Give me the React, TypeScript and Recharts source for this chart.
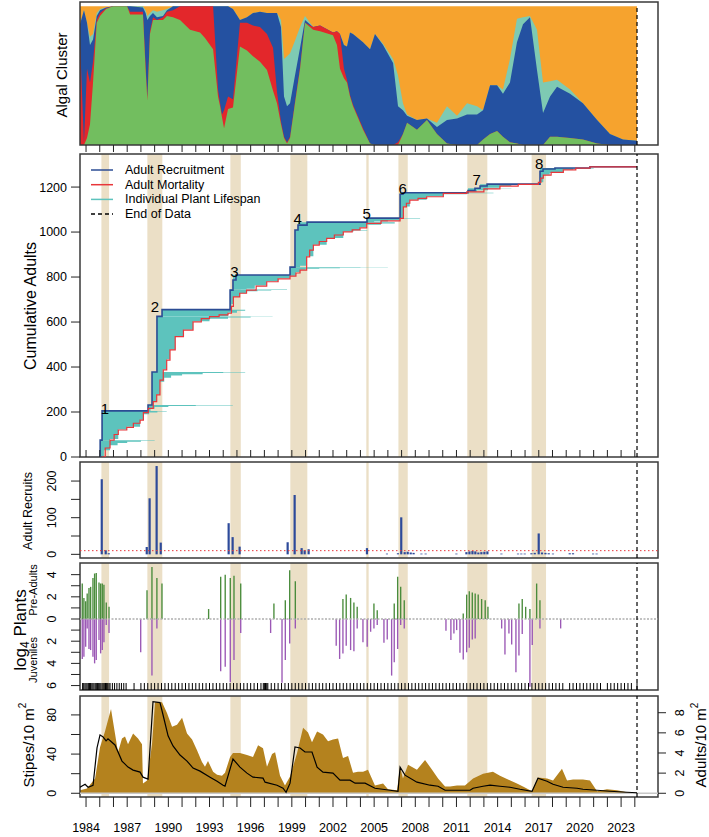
import React from "react";
import {
  ComposedChart,
  Area,
  Line,
  Bar,
  Scatter,
  XAxis,
  YAxis,
  ReferenceArea,
  ReferenceLine,
  ReferenceDot,
  Legend,
} from "recharts";

const FONT = "'Liberation Sans', Arial, Helvetica, sans-serif";
const W = 709;
const H = 837;
const X_DOMAIN: [number, number] = [1983.56, 2025.69];

// shared time axis
const yearTicks = [
  1984, 1985, 1986, 1987, 1988, 1989, 1990, 1991, 1992, 1993, 1994, 1995, 1996, 1997,
  1998, 1999, 2000, 2001, 2002, 2003, 2004, 2005, 2006, 2007, 2008, 2009, 2010, 2011,
  2012, 2013, 2014, 2015, 2016, 2017, 2018, 2019, 2020, 2021, 2022, 2023, 2024,
];
const yearLabels = [1984, 1987, 1990, 1993, 1996, 1999, 2002, 2005, 2008, 2011, 2014, 2017, 2020, 2023];
const endOfData = 2024.16;
const bandStarts = [1985.12, 1988.47, 1994.52, 1998.89, 2004.43, 2006.77, 2011.79, 2016.48];
const bandEnds = [1985.68, 1989.56, 1995.28, 2000.13, 2004.6, 2007.45, 2013.25, 2017.53];

// algal cluster (upper edge of each cluster, cumulative share)
const algalYears = [
  1983.56, 1983.85, 1984.07, 1984.29, 1984.51, 1984.78, 1985.02, 1985.46, 1985.97, 1986.99,
  1987.21, 1988.15, 1988.34, 1988.47, 1988.66, 1988.88, 1989.17, 1989.61, 1989.9, 1990.34,
  1990.85, 1991.58, 1992.31, 1992.67, 1993.26, 1993.62, 1993.77, 1993.91, 1994.06, 1994.35,
  1994.71, 1995.22, 1995.73, 1996.17, 1996.68, 1997.19, 1997.63, 1997.92, 1998.21, 1998.43,
  1998.65, 1998.87, 1999.23, 1999.6, 1999.96, 2000.55, 2001.06, 2002.0, 2002.29, 2002.51,
  2002.8, 2003.02, 2003.24, 2003.46, 2004.19, 2004.7, 2005.06, 2005.65, 2006.38, 2006.74,
  2007.1, 2007.4, 2008.12, 2008.85, 2009.58, 2010.31, 2011.04, 2011.77, 2012.5, 2012.94,
  2013.45, 2013.96, 2014.39, 2014.9, 2015.41, 2015.85, 2016.36, 2016.87, 2017.31, 2017.82,
  2018.33, 2019.28, 2020.22, 2021.25, 2022.19, 2023.14, 2024.16,
];
const greenTop = [
  0, 0, 0.05, 0.15, 0.45, 0.88, 0.93, 0.98, 1, 1,
  0.94, 0.94, 0.55, 0.32, 0.8, 0.9, 0.9, 0.9, 0.93, 0.92,
  0.9, 0.83, 0.81, 0.77, 0.69, 0.35, 0.28, 0.2, 0.12, 0.26,
  0.27, 0.71, 0.68, 0.64, 0.6, 0.54, 0.39, 0.3, 0.15, 0.05,
  0.01, 0.05, 0.3, 0.55, 0.88, 0.83, 0.82, 0.79, 0.72, 0.55,
  0.48, 0.45, 0.35, 0.28, 0.11, 0.01, 0, 0, 0, 0,
  0.08, 0.16, 0.11, 0.18, 0.08, 0.01, 0, 0, 0, 0.04,
  0.08, 0.1, 0.06, 0.02, 0.01, 0, 0, 0, 0, 0.06,
  0.06, 0.05, 0.04, 0.01, 0, 0, 0,
];
const redTop = [
  0.74, 0.02, 0.55, 0.45, 0.6, 0.9, 0.95, 0.985, 1, 1,
  0.96, 0.96, 0.58, 0.34, 0.82, 0.92, 0.9, 0.92, 0.96, 0.97,
  1, 1, 1, 1, 1, 0.4, 0.3, 0.22, 0.25, 0.35,
  0.33, 0.88, 0.88, 0.86, 0.85, 0.8, 0.7, 0.38, 0.17, 0.06,
  0.02, 0.06, 0.31, 0.56, 0.88, 0.85, 0.86, 0.81, 0.82, 0.8,
  0.55, 0.47, 0.36, 0.29, 0.12, 0.01, 0, 0, 0, 0.02,
  0.08, 0.16, 0.11, 0.18, 0.08, 0.01, 0, 0, 0, 0.04,
  0.08, 0.1, 0.06, 0.02, 0.01, 0, 0, 0, 0, 0.06,
  0.06, 0.05, 0.04, 0.01, 0, 0, 0,
];
const blueTop = [
  0.87, 0.97, 0.88, 0.72, 0.76, 0.93, 0.97, 0.99, 1, 1,
  1, 0.99, 0.95, 0.9, 0.93, 0.95, 0.92, 0.93, 0.97, 1,
  1, 1, 1, 1, 1, 1, 1, 1, 1, 1,
  0.98, 0.9, 0.92, 0.95, 0.96, 0.95, 0.95, 0.95, 0.85, 0.35,
  0.28, 0.3, 0.5, 0.7, 0.9, 0.85, 0.86, 0.81, 0.82, 0.8,
  0.72, 0.71, 0.81, 0.8, 0.74, 0.69, 0.8, 0.72, 0.59, 0.28,
  0.25, 0.21, 0.18, 0.19, 0.13, 0.18, 0.19, 0.22, 0.22, 0.25,
  0.43, 0.43, 0.37, 0.45, 0.74, 0.87, 0.92, 0.54, 0.23, 0.35,
  0.42, 0.37, 0.3, 0.18, 0.08, 0.04, 0.03,
];
const tealTop = [
  0.87, 0.97, 0.88, 0.78, 0.8, 0.95, 0.98, 0.99, 1, 1,
  1, 1, 0.97, 0.93, 0.95, 0.97, 0.96, 0.97, 0.98, 1,
  1, 1, 1, 1, 1, 1, 1, 1, 1, 1,
  0.98, 0.9, 0.92, 0.95, 0.96, 0.95, 0.95, 0.95, 0.9, 0.62,
  0.64, 0.66, 0.75, 0.85, 0.93, 0.85, 0.86, 0.81, 0.82, 0.8,
  0.72, 0.71, 0.81, 0.8, 0.74, 0.69, 0.8, 0.73, 0.62, 0.5,
  0.3, 0.22, 0.18, 0.19, 0.16, 0.28, 0.21, 0.3, 0.28, 0.25,
  0.43, 0.43, 0.4, 0.62, 0.91, 0.92, 0.93, 0.83, 0.45, 0.46,
  0.47, 0.4, 0.3, 0.18, 0.08, 0.04, 0.03,
];

// cumulative adults
const adultTicks = [0, 200, 400, 600, 800, 1000, 1200];
const recruitStepYears = [
  1985.02, 1985.03, 1985.17, 1988.52, 1988.81, 1989.17, 1989.54, 1994.5, 1994.71, 1994.93,
  1998.87, 1999.23, 1999.45, 2000.11, 2004.48, 2006.89, 2007.1, 2011.84, 2012.35, 2012.72,
  2013.23, 2017.09, 2017.31, 2018.18, 2020.73, 2024.16,
];
const recruitStepTotals = [
  0, 75, 205, 231, 378, 625, 655, 742, 787, 809,
  844, 1009, 1031, 1044, 1062, 1168, 1175, 1185, 1195, 1205,
  1213, 1270, 1280, 1285, 1290, 1290,
];
const mortalityYears = [
  1985.14, 1985.4, 1985.75, 1986.05, 1986.35, 1986.97, 1987.45, 1987.94, 1988.18, 1988.54,
  1988.9, 1989.15, 1989.39, 1989.63, 1989.88, 1990.12, 1990.5, 1991.1, 1991.8, 1992.4,
  1993.0, 1993.7, 1994.35, 1994.6, 1994.74, 1995.2, 1995.7, 1996.4, 1997.17, 1998.0,
  1998.87, 1999.3, 1999.6, 2000.08, 2000.3, 2000.57, 2001.0, 2001.54, 2002.1, 2002.75,
  2003.4, 2003.97, 2004.46, 2005.5, 2006.89, 2007.13, 2007.35, 2007.6, 2008.2, 2008.83,
  2010.04, 2011.75, 2013.0, 2014.17, 2015.5, 2016.97, 2017.15, 2017.33, 2017.9, 2018.79,
  2019.7, 2020.73, 2024.16,
];
const mortalityTotals = [
  0, 40, 75, 100, 120, 132, 150, 164, 197, 216,
  246, 276, 342, 387, 431, 476, 535, 564, 601, 615,
  624, 632, 639, 670, 712, 728, 742, 760, 779, 792,
  804, 818, 831, 890, 920, 942, 958, 972, 987, 1001,
  1010, 1019, 1039, 1050, 1061, 1112, 1128, 1142, 1150, 1157,
  1172, 1179, 1192, 1204, 1212, 1221, 1240, 1253, 1265, 1276,
  1284, 1290, 1290,
];
// lifespans of plants grouped by recruitment cohort: survivors span [lower, top]
const lifespanCohorts = [
  { top: 75, years: [1985.02, 1985.3, 1985.75, 1986.3, 1987.0, 1988.0, 1989.0, 1990.3], lower: [0, 30, 52, 62, 68, 72, 74, 75] },
  { top: 205, years: [1985.17, 1985.75, 1986.35, 1986.97, 1987.94, 1988.18, 1988.6, 1989.2, 1989.88], lower: [75, 80, 122, 134, 166, 190, 198, 202, 205] },
  { top: 231, years: [1988.52, 1988.7, 1989.0, 1990.0, 1992.0, 1994.7], lower: [205, 215, 222, 227, 229.5, 231] },
  { top: 378, years: [1988.81, 1988.9, 1989.15, 1989.39, 1989.7, 1990.2, 1991.0, 1992.5, 1994.0, 1995.6], lower: [231, 248, 278, 335, 352, 362, 368, 373, 376, 378] },
  { top: 625, years: [1989.17, 1989.6, 1989.88, 1990.12, 1990.5, 1991.1, 1991.8, 1993.0, 1994.35, 1996.0, 1997.6], lower: [378, 390, 435, 478, 537, 566, 603, 615, 620, 623, 625] },
  { top: 655, years: [1989.54, 1993.0, 1994.35, 1995.0, 1995.6], lower: [625, 626, 641, 650, 655] },
  { top: 745, years: [1994.5, 1994.6, 1994.74, 1995.2, 1995.7, 1996.5, 1997.5, 1998.65], lower: [655, 680, 712, 728, 737, 740, 742, 745] },
  { top: 809, years: [1994.71, 1995.7, 1996.3, 1997.17, 1998.0, 1998.87, 1999.3], lower: [745, 748, 762, 781, 795, 806, 809] },
  { top: 844, years: [1998.87, 1999.3, 1999.6, 2000.0, 2001.0, 2002.5, 2004.0, 2006.0], lower: [809, 822, 832, 837, 839, 841, 842.5, 844] },
  { top: 1009, years: [1999.23, 1999.6, 2000.08, 2000.57, 2001.54, 2002.75, 2003.5, 2004.5], lower: [844, 850, 892, 944, 974, 1003, 1007, 1009] },
  { top: 1044, years: [1999.45, 2002.75, 2003.97, 2004.46, 2005.5, 2006.5], lower: [1009, 1009, 1021, 1032, 1038, 1044] },
  { top: 1062, years: [2004.48, 2005.0, 2006.0, 2006.89, 2008.35], lower: [1044, 1047, 1052, 1060, 1062] },
  { top: 1175, years: [2006.89, 2007.13, 2007.6, 2008.83, 2010.04, 2011.75, 2013.7], lower: [1062, 1114, 1144, 1159, 1168, 1172, 1175] },
  { top: 1195, years: [2011.84, 2012.5, 2013.3, 2014.0, 2015.0], lower: [1179, 1186, 1192, 1194, 1195] },
  { top: 1213, years: [2012.72, 2013.3, 2014.17, 2015.0, 2015.9], lower: [1195, 1197, 1205, 1209, 1213] },
  { top: 1285, years: [2017.09, 2017.33, 2017.8, 2018.79, 2019.5, 2021.0], lower: [1221, 1255, 1262, 1277, 1282, 1285] },
];
const cohortLabelText = ["1", "2", "3", "4", "5", "6", "7", "8"];
const cohortLabelYears = [1985.38, 1989.03, 1994.81, 1999.43, 2004.46, 2007.08, 2012.48, 2017.02];
const cohortLabelLevels = [216, 668, 824, 1061, 1083, 1194, 1234, 1305];

// adult recruits per survey
const recruitTicks = [0, 50, 100, 150, 200];
const recruitTickLabels = [0, 100, 200];
const recruitYears = [
  1985.17, 1985.46, 1985.68, 1988.45, 1988.66, 1989.17, 1989.47, 1994.42, 1994.71, 1995.22,
  1998.72, 1999.23, 1999.74, 1999.96, 2000.25, 2004.5, 2005.96, 2006.76, 2007.0, 2007.25,
  2007.47, 2007.69, 2007.9, 2008.47, 2008.78, 2011.02, 2011.75, 2011.97, 2012.19, 2012.4,
  2012.62, 2012.84, 2013.06, 2013.28, 2014.3, 2015.51, 2015.75, 2016.0, 2016.49, 2016.73,
  2017.02, 2017.26, 2017.51, 2017.75, 2018.06, 2019.28, 2019.52, 2020.98, 2021.24,
];
const recruitCounts = [
  205, 11, 3, 20, 153, 241, 32, 85, 47, 21,
  33, 162, 17, 11, 14, 17, 2, 3, 101, 6,
  7, 5, 4, 2, 2, 2, 6, 8, 9, 8,
  5, 6, 7, 8, 2, 2, 2, 2, 3, 4,
  57, 5, 4, 3, 2, 3, 3, 2, 2,
];
const recruitThreshold = 10;

// log4 plants: pre-adults up, juveniles down
const plantTicks = [-6, -5, -4, -3, -2, -1, 0, 1, 2, 3, 4];
const plantTickLabels = [-6, -4, -2, 0, 2, 4];
const plantYears = [
  1983.73, 1983.85, 1983.98, 1984.09, 1984.22, 1984.34, 1984.51, 1984.63, 1984.75, 1984.95,
  1985.07, 1985.19, 1985.31, 1985.48, 1985.68, 1987.99, 1988.45, 1988.81, 1989.17, 1989.54,
  1992.94, 1993.82, 1994.15, 1994.52, 1994.79, 1995.28, 1997.46, 1997.7, 1998.29, 1998.53,
  1998.85, 1999.26, 2002.24, 2002.49, 2002.73, 2002.97, 2003.29, 2003.53, 2003.77, 2004.19,
  2004.5, 2004.75, 2004.99, 2005.23, 2005.72, 2005.96, 2006.28, 2006.47, 2006.72, 2006.94,
  2007.2, 2010.24, 2010.6, 2010.82, 2011.02, 2011.26, 2011.5, 2011.75, 2011.94, 2012.16,
  2012.37, 2012.59, 2012.84, 2013.1, 2013.3, 2014.3, 2014.54, 2014.83, 2015.03, 2015.34,
  2015.56, 2015.8, 2016.05, 2016.36, 2016.53, 2016.85, 2017.09, 2018.6,
];
const preAdults = [
  3.2, 1.9, 1.6, 2.3, 2.8, 2.9, 3.7, 4.1, 4.15, 3.3,
  3.2, 3.2, 3.1, 1.5, 1.1, 0, 2.6, 4.7, 3.7, 3.2,
  0.9, 3.8, 4.0, 3.7, 3.9, 3.2, 0, 1.4, 0, 1.7,
  4.4, 3.4, 0, 0, 1.8, 2.2, 1.9, 1.5, 1.1, 0,
  0, 0, 1.4, 0.8, 0, 0, 0, 1.4, 3.8, 2.9,
  1.7, 0, 0, 0, 0, 0, 0.5, 2.2, 2.5, 2.4,
  2.3, 2.2, 1.8, 1.7, 1.1, 0, 0, 0, 0, 0,
  1.4, 1.8, 1.1, 0.9, 0, 3.2, 1.7, 0,
];
const juveniles = [
  3.6, 3.4, 2.5, 0.85, 2.7, 2.8, 3.4, 4.0, 3.7, 1.9,
  3.1, 2.8, 2.1, 0.55, 1.25, 3.0, 0, 5.1, 0.85, 0,
  0, 4.7, 4.3, 5.7, 3.7, 1.25, 1.25, 0, 5.75, 3.7,
  2.2, 0.85, 2.4, 3.6, 3.1, 2.4, 2.8, 2.9, 0.85, 2.1,
  2.5, 1.15, 0.85, 0.55, 2.15, 1.85, 5.1, 3.9, 2.7, 0.55,
  0.85, 1.05, 1.9, 1.3, 1.0, 3.05, 3.65, 3.0, 2.6, 1.85,
  1.75, 0, 0, 0, 0, 0.85, 3.2, 1.3, 2.3, 4.8,
  3.3, 1.35, 0, 6.1, 2.35, 0, 0.85, 0.85,
];
const surveyDates = [
  1983.75, 1983.83, 1983.92, 1984.0, 1984.08, 1984.17, 1984.25, 1984.33, 1984.42, 1984.5,
  1984.58, 1984.67, 1984.75, 1984.83, 1984.92, 1985.0, 1985.08, 1985.17, 1985.25, 1985.33,
  1985.42, 1985.5, 1985.58, 1985.67, 1985.75, 1985.92, 1986.08, 1986.25, 1986.42, 1986.58,
  1986.75, 1986.92, 1987.5,
  1988.0, 1988.25, 1988.5, 1988.75, 1989.0, 1989.25, 1989.5, 1989.75,
  1990.0, 1990.25, 1990.5, 1990.75, 1991.0, 1991.25, 1991.5, 1991.75,
  1992.0, 1992.25, 1992.5, 1992.75, 1993.0, 1993.25, 1993.5, 1993.75,
  1994.0, 1994.25, 1994.5, 1994.75, 1995.0, 1995.25, 1995.5, 1995.75,
  1996.0, 1996.25, 1996.5, 1996.75, 1996.92, 1997.0, 1997.08, 1997.17, 1997.25, 1997.5, 1997.75,
  1998.0, 1998.25, 1998.5, 1998.75, 1999.0, 1999.25, 1999.5, 1999.75,
  2000.0, 2000.25, 2000.5, 2000.75, 2001.0, 2001.25, 2001.5, 2001.75,
  2002.0, 2002.25, 2002.5, 2002.75, 2003.0, 2003.25, 2003.5, 2003.75,
  2004.0, 2004.25, 2004.5, 2004.75, 2005.0, 2005.25, 2005.5, 2005.75,
  2006.0, 2006.25, 2006.5, 2006.75, 2007.0, 2007.25, 2007.5, 2007.75,
  2008.0, 2008.25, 2008.5, 2008.75, 2009.0, 2009.25, 2009.5, 2009.75,
  2010.0, 2010.25, 2010.5, 2010.75, 2011.0, 2011.25, 2011.5, 2011.75,
  2012.0, 2012.25, 2012.5, 2012.75, 2013.0, 2013.25, 2013.5, 2013.75,
  2014.0, 2014.25, 2014.5, 2014.75, 2015.0, 2015.25, 2015.5, 2015.75,
  2016.0, 2016.25, 2016.5, 2016.75, 2017.0, 2017.25, 2017.5, 2017.75,
  2018.0, 2018.25, 2018.5, 2018.75, 2019.25, 2019.5, 2019.75, 2020.0,
  2020.25, 2020.5, 2020.75, 2021.0, 2021.25, 2021.5, 2022.0, 2022.25,
  2022.5, 2022.75, 2023.0, 2023.25, 2023.5, 2023.75, 2024.16,
];

// kelp density
const stipeTicks = [0, 20, 40, 60, 80];
const stipeTickLabels = [0, 40, 80];
const adultDensityTicks = [0, 2, 4, 6, 8];
const stipeYears = [
  1983.56, 1984.07, 1984.66, 1985.02, 1985.38, 1985.82, 1986.11, 1986.33, 1986.62, 1986.84,
  1987.06, 1987.43, 1987.79, 1988.08, 1988.15, 1988.45, 1988.81, 1989.03, 1989.54, 1989.9,
  1990.27, 1990.63, 1991.0, 1991.36, 1991.73, 1992.09, 1992.45, 1992.67, 1992.89, 1993.26,
  1993.55, 1993.91, 1994.13, 1994.5, 1994.71, 1995.22, 1995.73, 1996.17, 1996.54, 1996.9,
  1997.19, 1997.56, 1997.78, 1998.14, 1998.5, 1998.87, 1999.38, 1999.82, 2000.18, 2000.47,
  2000.84, 2001.27, 2001.64, 2002.0, 2002.37, 2002.73, 2003.1, 2003.46, 2003.82, 2004.19,
  2004.55, 2005.06, 2005.65, 2006.01, 2006.67, 2006.89, 2007.1, 2007.47, 2008.12, 2008.71,
  2009.22, 2009.66, 2010.17, 2010.53, 2011.04, 2011.62, 2012.21, 2012.94, 2013.66, 2014.17,
  2014.76, 2015.41, 2015.85, 2016.51, 2016.94, 2017.6, 2018.04, 2018.69, 2019.06, 2019.5,
  2020.22, 2020.73, 2021.25, 2021.97, 2022.7, 2023.43, 2024.16,
];
const stipeDensity = [
  3, 5, 15, 47, 63, 86, 61, 42, 56, 58,
  50, 61, 56, 50, 10, 13, 50, 93, 93, 82,
  68, 70, 77, 61, 55, 44, 32, 27, 33, 22,
  19, 18, 21, 37, 41, 41, 39, 37, 49, 46,
  27, 40, 42, 18, 8, 17, 41, 67, 62, 52,
  63, 60, 53, 55, 56, 36, 38, 21, 22, 22,
  24, 8, 10, 4, 3, 27, 15, 29, 24, 34,
  24, 15, 7, 7, 8, 8, 15, 20, 22, 18,
  14, 10, 7, 2, 16, 15, 13, 25, 13, 14,
  14, 13, 2, 4, 3, 1, 0.5,
];
const adultYears = [
  1983.56, 1983.93, 1984.15, 1984.51, 1984.8, 1985.02, 1985.24, 1985.46, 1985.6, 1986.11,
  1986.62, 1987.06, 1987.43, 1987.94, 1988.15, 1988.52, 1988.88, 1989.39, 1989.61, 1989.98,
  1990.34, 1990.85, 1991.36, 1991.8, 1992.31, 1993.04, 1993.55, 1993.99, 1994.13, 1994.71,
  1995.22, 1995.73, 1996.17, 1996.9, 1997.05, 1997.92, 1998.36, 1998.58, 1998.87, 1999.23,
  1999.6, 1999.96, 2000.47, 2000.84, 2001.27, 2002.0, 2002.51, 2003.24, 2003.61, 2004.34,
  2005.06, 2006.16, 2006.74, 2006.89, 2007.25, 2008.12, 2009.07, 2009.66, 2010.17, 2011.26,
  2011.99, 2012.21, 2012.94, 2013.45, 2014.17, 2014.9, 2015.63, 2016.51, 2016.94, 2017.6,
  2018.04, 2018.77, 2019.79, 2020.22, 2021.25, 2022.19, 2023.43, 2024.16,
];
const adultDensity = [
  0.6, 0.9, 0.6, 0.8, 4.5, 5.8, 5.6, 5.2, 5.4, 4.8,
  3.2, 2.6, 2.3, 2.1, 1.6, 1.4, 9.1, 9.0, 7.8, 5.7,
  4.7, 3.8, 3.2, 2.5, 2.2, 1.6, 1.2, 0.8, 0.7, 3.4,
  2.6, 2.0, 1.6, 1.5, 1.1, 0.8, 0.5, 0.1, 1.0, 4.6,
  4.5, 4.1, 4.1, 2.6, 2.1, 2.0, 1.3, 1.3, 1.0, 1.0,
  0.5, 0.3, 0.2, 2.6, 1.8, 1.1, 0.8, 0.7, 0.3, 0.3,
  0.3, 0.5, 0.7, 0.8, 0.7, 0.6, 0.4, 0.2, 1.5, 1.2,
  0.9, 0.6, 0.5, 0.4, 0.3, 0.2, 0.1, 0.05,
];

// colours
const ORANGE = "#F6A32E";
const TEAL_ALGAE = "#7ECAB3";
const BLUE_ALGAE = "#2451A1";
const RED_ALGAE = "#E3272B";
const GREEN_ALGAE = "#72BE5F";
const LIFESPAN = "#5DC3BD";
const RECRUIT_LINE = "#2B4C94";
const MORT_LINE = "#E8363A";
const BAR_BLUE = "#2D4A9A";
const PRE_GREEN = "#4A8C3C";
const JUV_PURPLE = "#9B58B5";
const GOLD = "#B4821E";
const BAND = "#EBDFC6";
const INK = "#222";
const FRAME = "#3a3a3a";

// tables
const algalRows = algalYears.map((year, i) => ({
  year,
  green: greenTop[i],
  red: redTop[i],
  blue: blueTop[i],
  teal: tealTop[i],
}));
const recruitStepRows = recruitStepYears.map((year, i) => ({ year, total: recruitStepTotals[i] }));
const mortalityRows = mortalityYears.map((year, i) => ({ year, total: mortalityTotals[i] }));
const recruitBarRows = recruitYears.map((year, i) => ({ year, recruits: recruitCounts[i] }));
const plantRows = plantYears.map((year, i) => ({ year, pre: preAdults[i], juv: -juveniles[i] }));
const rugRows = surveyDates.map((year) => ({ year, level: -6.4 }));
const stipeRows = stipeYears.map((year, i) => ({ year, stipes: stipeDensity[i] }));
const adultRows = adultYears.map((year, i) => ({ year, adults: adultDensity[i] }));

function VTitle({ tx, ty, fs, caption }: any) {
  return (
    <text x={tx} y={ty} transform={`rotate(-90 ${tx} ${ty})`} textAnchor="middle" dominantBaseline="central"
      fontSize={fs} fontFamily={FONT} fill="#000">
      {caption}
    </text>
  );
}

function PlantTitles() {
  return (
    <g>
      <text x={20} y={630} transform="rotate(-90 20 630)" textAnchor="middle" dominantBaseline="central"
        fontSize={17} fontFamily={FONT} fill="#000">
        log<tspan fontSize={12} dy={5}>4</tspan><tspan dy={-5}> Plants</tspan>
      </text>
      <VTitle tx={33} ty={590} fs={11} caption="Pre-Adults" />
      <VTitle tx={33} ty={660} fs={11} caption="Juveniles" />
    </g>
  );
}

function DensityTitle({ tx, ty, caption }: any) {
  return (
    <text x={tx} y={ty} transform={`rotate(-90 ${tx} ${ty})`} textAnchor="middle" dominantBaseline="central"
      fontSize={15} fontFamily={FONT} fill="#000">
      {caption}<tspan fontSize={10} dy={-6}>2</tspan>
    </text>
  );
}

function SideTick(props: any) {
  const { x, y, payload, shown } = props;
  if (!shown.includes(payload.value)) return <g />;
  return (
    <text x={x} y={y} transform={`rotate(-90 ${x} ${y})`} textAnchor="middle" fontSize={12.5}
      fontFamily={FONT} fill="#000">
      {Math.abs(payload.value)}
    </text>
  );
}

function RugTick(props: any) {
  return <line x1={props.cx} x2={props.cx} y1={props.cy} y2={props.cy - 7} stroke="#000" strokeWidth={1} />;
}

function LifespanLegend() {
  const rows = [
    { name: "Adult Recruitment", color: RECRUIT_LINE, dash: undefined },
    { name: "Adult Mortality", color: MORT_LINE, dash: undefined },
    { name: "Individual Plant Lifespan", color: LIFESPAN, dash: undefined },
    { name: "End of Data", color: "#000", dash: "4 3" },
  ];
  return (
    <svg width={240} height={64} style={{ display: "block" }}>
      {rows.map((r, i) => {
        const y = 9 + i * 14.7;
        return (
          <g key={r.name}>
            <line x1={4} x2={26} y1={y} y2={y} stroke={r.color} strokeWidth={1.5} strokeDasharray={r.dash} />
            <text x={38} y={y} dominantBaseline="central" fontSize={12.5} fontFamily={FONT} fill="#000">
              {r.name}
            </text>
          </g>
        );
      })}
    </svg>
  );
}

const axisIdProps = (yAxisId?: string) => (yAxisId ? { yAxisId } : {});

const bandAreas = (yAxisId?: string) =>
  bandStarts.map((s, i) => (
    <ReferenceArea key={`band${i}`} x1={s} x2={bandEnds[i]} {...axisIdProps(yAxisId)} fill={BAND}
      fillOpacity={1} stroke="none" />
  ));

const frame = (yDomain: [number, number], yAxisId?: string) => (
  <ReferenceArea x1={X_DOMAIN[0]} x2={X_DOMAIN[1]} y1={yDomain[0]} y2={yDomain[1]} {...axisIdProps(yAxisId)}
    fill="none" stroke={FRAME} strokeWidth={1.5} ifOverflow="visible" />
);

const endLine = (yAxisId?: string) => (
  <ReferenceLine x={endOfData} {...axisIdProps(yAxisId)} stroke="#000" strokeDasharray="4 3" strokeWidth={1.2} />
);

const tickFont = { fill: "#000", fontSize: 12.5, fontFamily: FONT };
const layer: React.CSSProperties = { position: "absolute", left: 0, top: 0 };

function AlgalPanel() {
  return (
    <ComposedChart width={W} height={H} data={algalRows} margin={{ top: 2, right: 51, bottom: 682, left: 0 }}>
      <XAxis type="number" dataKey="year" domain={X_DOMAIN} allowDataOverflow ticks={yearTicks} interval={0}
        tickSize={7} tickFormatter={() => ""} axisLine={false} stroke={INK} height={10} />
      <YAxis type="number" domain={[0, 1.03]} allowDataOverflow width={80} tick={false} tickLine={false}
        axisLine={false} label={<VTitle tx={61} ty={75} fs={15} caption="Algal Cluster" />} />
      <Area dataKey={() => 1} type="linear" stroke="none" fill={ORANGE} fillOpacity={1} isAnimationActive={false} />
      <Area dataKey="teal" type="linear" stroke="none" fill={TEAL_ALGAE} fillOpacity={1} isAnimationActive={false} />
      <Area dataKey="blue" type="linear" stroke="none" fill={BLUE_ALGAE} fillOpacity={1} isAnimationActive={false} />
      <Area dataKey="red" type="linear" stroke="none" fill={RED_ALGAE} fillOpacity={1} isAnimationActive={false} />
      <Area dataKey="green" type="linear" stroke="none" fill={GREEN_ALGAE} fillOpacity={1} isAnimationActive={false} />
      <ReferenceLine segment={[{ x: endOfData, y: 0 }, { x: endOfData, y: 1 }]} stroke="#000"
        strokeDasharray="4 3" strokeWidth={1.2} />
      {frame([0, 1.03])}
    </ComposedChart>
  );
}

function AdultsPanel() {
  return (
    <ComposedChart width={W} height={H} margin={{ top: 154, right: 51, bottom: 380, left: 0 }}>
      <XAxis type="number" dataKey="year" domain={X_DOMAIN} allowDataOverflow ticks={yearTicks} interval={0}
        mirror tickSize={7} tickFormatter={() => ""} axisLine={false} stroke={INK} />
      <YAxis type="number" domain={[0, 1347]} allowDataOverflow ticks={adultTicks} interval={0} width={80}
        tickSize={9} tickMargin={4} axisLine={false} stroke={INK} tick={tickFont}
        label={<VTitle tx={30} ty={306} fs={16} caption="Cumulative Adults" />} />
      {bandAreas()}
      {lifespanCohorts.map((c, k) => (
        <Area key={`cohort${k}`} data={c.years.map((year, i) => ({ year, span: [c.lower[i], c.top] }))}
          dataKey="span" type="stepAfter" stroke="none" fill={LIFESPAN} fillOpacity={1} isAnimationActive={false} />
      ))}
      <Line data={recruitStepRows} dataKey="total" type="stepAfter" stroke={RECRUIT_LINE} strokeWidth={1.6}
        dot={false} isAnimationActive={false} />
      <Line data={mortalityRows} dataKey="total" type="stepAfter" stroke={MORT_LINE} strokeWidth={1.2}
        dot={false} isAnimationActive={false} />
      {endLine()}
      {cohortLabelText.map((t, i) => (
        <ReferenceDot key={`lab${t}`} x={cohortLabelYears[i]} y={cohortLabelLevels[i]} r={0} fill="none"
          stroke="none" label={{ value: t, position: "center", fontSize: 15, fill: "#000", fontFamily: FONT }} />
      ))}
      <Legend layout="vertical" align="center" verticalAlign="middle"
        wrapperStyle={{ left: 87, top: 161, width: 240, height: 64 }} content={() => <LifespanLegend />} />
      {frame([0, 1347])}
    </ComposedChart>
  );
}

function RecruitsPanel() {
  return (
    <ComposedChart width={W} height={H} data={recruitBarRows} margin={{ top: 462, right: 51, bottom: 279, left: 0 }}>
      <XAxis type="number" dataKey="year" domain={X_DOMAIN} allowDataOverflow hide />
      <YAxis type="number" domain={[-10, 252]} allowDataOverflow ticks={recruitTicks} interval={0} width={80}
        tickSize={9} tickMargin={14.5} axisLine={false} stroke={INK} tick={<SideTick shown={recruitTickLabels} />}
        label={<VTitle tx={28} ty={511} fs={12.5} caption="Adult Recruits" />} />
      {bandAreas()}
      <ReferenceLine y={recruitThreshold} stroke={MORT_LINE} strokeDasharray="1.5 2.5" strokeWidth={1} />
      <Bar dataKey="recruits" fill={BAR_BLUE} barSize={2.2} isAnimationActive={false} />
      {endLine()}
      {frame([-10, 252])}
    </ComposedChart>
  );
}

function PlantsPanel() {
  return (
    <ComposedChart width={W} height={H} data={plantRows} stackOffset="sign"
      margin={{ top: 563, right: 51, bottom: 147, left: 0 }}>
      <XAxis type="number" dataKey="year" domain={X_DOMAIN} allowDataOverflow hide />
      <YAxis type="number" domain={[-6.4, 5.05]} allowDataOverflow ticks={plantTicks} interval={0} width={80}
        tickSize={9} tickMargin={14.5} axisLine={false} stroke={INK} tick={<SideTick shown={plantTickLabels} />}
        label={<PlantTitles />} />
      {bandAreas()}
      <ReferenceLine y={0} stroke="#AFAFAF" strokeDasharray="2 1.5" strokeWidth={1.6} />
      <Bar dataKey="pre" stackId="plants" fill={PRE_GREEN} barSize={1.6} isAnimationActive={false} />
      <Bar dataKey="juv" stackId="plants" fill={JUV_PURPLE} barSize={1.6} isAnimationActive={false} />
      {endLine()}
      {frame([-6.4, 5.05])}
    </ComposedChart>
  );
}

function SurveyRug() {
  return (
    <ComposedChart width={W} height={H} margin={{ top: 563, right: 51, bottom: 147, left: 80 }}>
      <XAxis type="number" dataKey="year" domain={X_DOMAIN} allowDataOverflow hide />
      <YAxis type="number" dataKey="level" domain={[-6.4, 5.05]} allowDataOverflow hide />
      <Scatter data={rugRows} dataKey="level" shape={RugTick} isAnimationActive={false} />
    </ComposedChart>
  );
}

function DensityPanel() {
  return (
    <ComposedChart width={W} height={H} margin={{ top: 696, right: 0, bottom: 0, left: 0 }}>
      <XAxis type="number" dataKey="year" domain={X_DOMAIN} allowDataOverflow ticks={yearTicks} interval={0}
        tickSize={10} tickMargin={16} height={40} axisLine={false} stroke={INK} tick={tickFont}
        tickFormatter={(v: number) => (yearLabels.includes(v) ? String(v) : "")} />
      <YAxis yAxisId="stipes" type="number" domain={[-3.8, 99.3]} allowDataOverflow ticks={stipeTicks} interval={0}
        width={80} tickSize={9} tickMargin={14.5} axisLine={false} stroke={INK}
        tick={<SideTick shown={stipeTickLabels} />} label={<DensityTitle tx={28} ty={745} caption="Stipes/10 m" />} />
      <YAxis yAxisId="adults" orientation="right" type="number" domain={[-0.37, 9.66]} allowDataOverflow
        ticks={adultDensityTicks} interval={0} width={51} tickSize={8} tickMargin={18.5} axisLine={false} stroke={INK}
        tick={<SideTick shown={adultDensityTicks} />} label={<DensityTitle tx={700} ty={745} caption="Adults/10 m" />} />
      {bandAreas("stipes")}
      <ReferenceLine yAxisId="stipes" y={0} stroke="#C8C8C8" strokeWidth={1.5} />
      <Area yAxisId="stipes" data={stipeRows} dataKey="stipes" type="linear" stroke="none" fill={GOLD}
        fillOpacity={1} isAnimationActive={false} />
      <Line yAxisId="adults" data={adultRows} dataKey="adults" type="linear" stroke="#000" strokeWidth={1.2}
        dot={false} isAnimationActive={false} />
      {endLine("stipes")}
      {frame([-3.8, 99.3], "stipes")}
    </ComposedChart>
  );
}

export default function App() {
  return (
    <div style={{ position: "absolute", left: 0, top: 0, width: W, height: H, background: "#fff", fontFamily: FONT }}>
      <div style={layer}><AlgalPanel /></div>
      <div style={layer}><AdultsPanel /></div>
      <div style={layer}><RecruitsPanel /></div>
      <div style={layer}><PlantsPanel /></div>
      <div style={layer}><SurveyRug /></div>
      <div style={layer}><DensityPanel /></div>
    </div>
  );
}
